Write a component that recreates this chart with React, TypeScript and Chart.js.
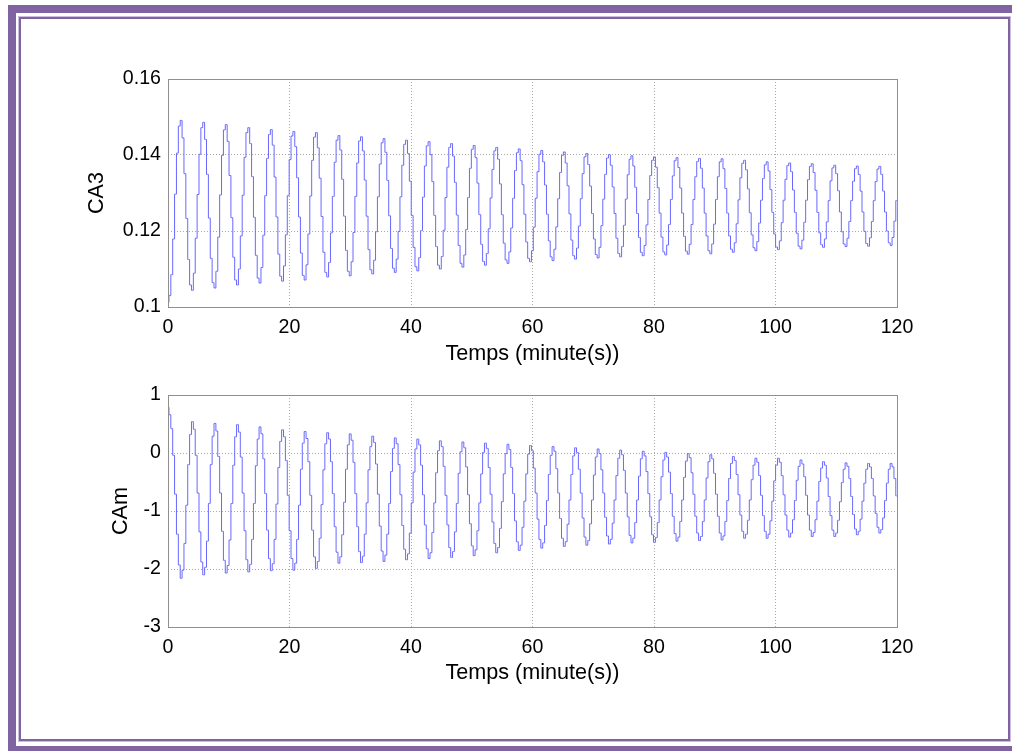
import { useEffect, useRef } from "react";
import { Chart, registerables } from "chart.js";

Chart.register(...registerables);

// Sampling interval of both series, in minutes
const SAMPLE_MIN = 0.30917;

const X_TICKS = [0, 20, 40, 60, 80, 100, 120];
const CA3_TICKS = [0.1, 0.12, 0.14, 0.16];
const CAM_TICKS = [-3, -2, -1, 0, 1];

const X_LABEL = "Temps (minute(s))";
const CA3_LABEL = "CA3";
const CAM_LABEL = "CAm";

// CA3 samples
const CA3 = [
  0.1012, 0.1030, 0.1085, 0.1179, 0.1297, 0.1405, 0.1476, 0.1491, 0.1445, 0.1351, 0.1233, 0.1125,
  0.1058, 0.1044, 0.1089, 0.1181, 0.1296, 0.1402, 0.1472, 0.1486, 0.1441, 0.1349, 0.1234, 0.1128,
  0.1064, 0.1050, 0.1094, 0.1184, 0.1295, 0.1399, 0.1466, 0.1480, 0.1436, 0.1346, 0.1235, 0.1131,
  0.1071, 0.1058, 0.1100, 0.1187, 0.1294, 0.1394, 0.1459, 0.1472, 0.1430, 0.1343, 0.1236, 0.1136,
  0.1076, 0.1063, 0.1104, 0.1189, 0.1293, 0.1391, 0.1454, 0.1467, 0.1426, 0.1342, 0.1237, 0.1139,
  0.1081, 0.1068, 0.1108, 0.1190, 0.1293, 0.1388, 0.1450, 0.1462, 0.1422, 0.1340, 0.1237, 0.1142,
  0.1083, 0.1071, 0.1111, 0.1192, 0.1292, 0.1386, 0.1447, 0.1459, 0.1419, 0.1339, 0.1238, 0.1144,
  0.1091, 0.1079, 0.1117, 0.1195, 0.1291, 0.1381, 0.1439, 0.1451, 0.1413, 0.1336, 0.1239, 0.1149,
  0.1094, 0.1082, 0.1119, 0.1196, 0.1291, 0.1379, 0.1437, 0.1448, 0.1411, 0.1334, 0.1239, 0.1151,
  0.1098, 0.1087, 0.1123, 0.1198, 0.1290, 0.1376, 0.1432, 0.1443, 0.1407, 0.1333, 0.1240, 0.1154,
  0.1102, 0.1091, 0.1126, 0.1199, 0.1290, 0.1373, 0.1428, 0.1439, 0.1404, 0.1331, 0.1241, 0.1157,
  0.1106, 0.1095, 0.1130, 0.1201, 0.1289, 0.1371, 0.1424, 0.1435, 0.1401, 0.1330, 0.1241, 0.1159,
  0.1110, 0.1100, 0.1133, 0.1202, 0.1288, 0.1368, 0.1420, 0.1430, 0.1397, 0.1328, 0.1242, 0.1162,
  0.1115, 0.1105, 0.1137, 0.1204, 0.1288, 0.1365, 0.1415, 0.1425, 0.1393, 0.1326, 0.1243, 0.1165,
  0.1120, 0.1110, 0.1141, 0.1206, 0.1287, 0.1362, 0.1411, 0.1420, 0.1389, 0.1324, 0.1243, 0.1168,
  0.1124, 0.1115, 0.1145, 0.1208, 0.1286, 0.1359, 0.1406, 0.1416, 0.1385, 0.1322, 0.1244, 0.1171,
  0.1128, 0.1119, 0.1148, 0.1210, 0.1286, 0.1356, 0.1402, 0.1412, 0.1382, 0.1321, 0.1244, 0.1174,
  0.1132, 0.1122, 0.1152, 0.1211, 0.1285, 0.1354, 0.1399, 0.1408, 0.1379, 0.1319, 0.1245, 0.1176,
  0.1135, 0.1126, 0.1155, 0.1213, 0.1285, 0.1351, 0.1395, 0.1404, 0.1375, 0.1318, 0.1246, 0.1179,
  0.1138, 0.1129, 0.1157, 0.1214, 0.1284, 0.1349, 0.1392, 0.1401, 0.1373, 0.1316, 0.1246, 0.1181,
  0.1141, 0.1132, 0.1159, 0.1215, 0.1284, 0.1348, 0.1389, 0.1398, 0.1371, 0.1315, 0.1246, 0.1183,
  0.1144, 0.1135, 0.1162, 0.1216, 0.1283, 0.1346, 0.1386, 0.1395, 0.1368, 0.1314, 0.1247, 0.1184,
  0.1145, 0.1137, 0.1163, 0.1217, 0.1283, 0.1345, 0.1385, 0.1393, 0.1367, 0.1313, 0.1247, 0.1186,
  0.1147, 0.1139, 0.1165, 0.1217, 0.1283, 0.1343, 0.1383, 0.1391, 0.1365, 0.1313, 0.1247, 0.1187,
  0.1148, 0.1140, 0.1166, 0.1218, 0.1283, 0.1343, 0.1382, 0.1390, 0.1364, 0.1312, 0.1247, 0.1187,
  0.1152, 0.1144, 0.1169, 0.1219, 0.1282, 0.1340, 0.1378, 0.1386, 0.1361, 0.1311, 0.1248, 0.1190,
  0.1156, 0.1148, 0.1172, 0.1221, 0.1281, 0.1338, 0.1374, 0.1382, 0.1358, 0.1309, 0.1249, 0.1192,
  0.1158, 0.1151, 0.1174, 0.1222, 0.1281, 0.1336, 0.1372, 0.1379, 0.1356, 0.1308, 0.1249, 0.1194,
  0.1160, 0.1153, 0.1176, 0.1223, 0.1281, 0.1335, 0.1370, 0.1377, 0.1354, 0.1307, 0.1249, 0.1195,
  0.1164, 0.1157, 0.1179, 0.1224, 0.1280, 0.1332, 0.1366, 0.1373, 0.1351, 0.1306, 0.1250, 0.1198,
  0.1166, 0.1159, 0.1181, 0.1225, 0.1280, 0.1331, 0.1364, 0.1371, 0.1349, 0.1305, 0.1250, 0.1199,
  0.1167, 0.1160, 0.1182, 0.1225, 0.1280, 0.1330, 0.1363, 0.1370, 0.1349, 0.1305, 0.1250, 0.1200,
  0.1169, 0.1162, 0.1183, 0.1226, 0.1280,
];

// CAm samples
const CAM = [
  0.79, 0.66, 0.42, -0.04, -0.71, -1.40, -1.93, -2.16, -2.02, -1.56, -0.90, -0.20,
  0.32, 0.54, 0.41, -0.04, -0.69, -1.36, -1.88, -2.10, -1.97, -1.52, -0.87, -0.20,
  0.29, 0.51, 0.38, -0.06, -0.69, -1.35, -1.85, -2.07, -1.94, -1.50, -0.87, -0.21,
  0.28, 0.49, 0.36, -0.07, -0.69, -1.34, -1.84, -2.05, -1.92, -1.49, -0.87, -0.22,
  0.24, 0.45, 0.33, -0.10, -0.70, -1.33, -1.82, -2.03, -1.91, -1.49, -0.88, -0.25,
  0.20, 0.40, 0.28, -0.13, -0.73, -1.34, -1.82, -2.02, -1.90, -1.49, -0.90, -0.28,
  0.17, 0.37, 0.25, -0.15, -0.73, -1.33, -1.79, -1.99, -1.87, -1.47, -0.89, -0.29,
  0.16, 0.35, 0.24, -0.15, -0.70, -1.27, -1.71, -1.90, -1.79, -1.41, -0.85, -0.28,
  0.14, 0.33, 0.22, -0.16, -0.70, -1.27, -1.70, -1.89, -1.78, -1.40, -0.86, -0.29,
  0.11, 0.29, 0.18, -0.19, -0.71, -1.26, -1.69, -1.87, -1.76, -1.40, -0.87, -0.32,
  0.08, 0.26, 0.16, -0.20, -0.72, -1.25, -1.66, -1.84, -1.74, -1.38, -0.86, -0.33,
  0.07, 0.24, 0.14, -0.21, -0.72, -1.24, -1.65, -1.82, -1.72, -1.37, -0.86, -0.34,
  0.04, 0.21, 0.11, -0.23, -0.73, -1.24, -1.63, -1.80, -1.70, -1.36, -0.87, -0.35,
  0.02, 0.19, 0.09, -0.24, -0.72, -1.22, -1.60, -1.77, -1.67, -1.34, -0.86, -0.36,
  0.01, 0.17, 0.08, -0.25, -0.71, -1.19, -1.56, -1.72, -1.63, -1.30, -0.84, -0.36,
  -0.01, 0.15, 0.06, -0.25, -0.70, -1.17, -1.53, -1.68, -1.59, -1.28, -0.83, -0.36,
  -0.02, 0.13, 0.04, -0.26, -0.69, -1.14, -1.49, -1.64, -1.55, -1.25, -0.82, -0.37,
  -0.04, 0.11, 0.03, -0.27, -0.69, -1.13, -1.47, -1.61, -1.53, -1.23, -0.81, -0.37,
  -0.05, 0.09, 0.01, -0.28, -0.69, -1.12, -1.45, -1.59, -1.51, -1.22, -0.81, -0.38,
  -0.07, 0.07, -0.01, -0.29, -0.69, -1.11, -1.43, -1.57, -1.49, -1.21, -0.81, -0.39,
  -0.09, 0.05, -0.03, -0.30, -0.69, -1.10, -1.42, -1.55, -1.47, -1.20, -0.81, -0.40,
  -0.10, 0.03, -0.05, -0.32, -0.70, -1.10, -1.41, -1.54, -1.46, -1.20, -0.81, -0.41,
  -0.12, 0.01, -0.07, -0.33, -0.70, -1.09, -1.39, -1.52, -1.45, -1.18, -0.81, -0.42,
  -0.14, -0.01, -0.08, -0.34, -0.71, -1.09, -1.38, -1.51, -1.44, -1.18, -0.81, -0.43,
  -0.15, -0.03, -0.10, -0.35, -0.71, -1.09, -1.38, -1.50, -1.43, -1.18, -0.82, -0.44,
  -0.18, -0.06, -0.13, -0.37, -0.72, -1.07, -1.35, -1.47, -1.40, -1.16, -0.81, -0.46,
  -0.21, -0.09, -0.16, -0.39, -0.73, -1.08, -1.35, -1.47, -1.40, -1.17, -0.83, -0.48,
  -0.21, -0.09, -0.16, -0.39, -0.72, -1.07, -1.33, -1.45, -1.38, -1.15, -0.82, -0.47,
  -0.23, -0.12, -0.19, -0.41, -0.73, -1.07, -1.33, -1.44, -1.37, -1.15, -0.83, -0.49,
  -0.26, -0.15, -0.21, -0.43, -0.75, -1.08, -1.33, -1.44, -1.38, -1.16, -0.84, -0.51,
  -0.28, -0.17, -0.23, -0.44, -0.75, -1.06, -1.31, -1.41, -1.35, -1.14, -0.83, -0.52,
  -0.28, -0.18, -0.24, -0.44, -0.74, -1.04, -1.28, -1.38, -1.32, -1.12, -0.82, -0.52,
  -0.28, -0.18, -0.24, -0.44, -0.74,
];

const PAGE_W = 1012;
const PAGE_H = 751;
const PLOT_LEFT = 168;
const PLOT_RIGHT = 897;
const FONT = "'Liberation Sans', Arial, sans-serif";
const TICK_SIZE = 19.6;
const LABEL_SIZE = 21.6;
const LINE_COLOR = "rgb(104, 104, 255)";
const GRID_COLOR = "#a8a8a8";
const BOX_COLOR = "#8f8f8f";
const FRAME_PURPLE = "#8064a2";

// Draws the closed axes box and the axis labels around the plot area
const axesDecor = {
  id: "axesDecor",
  afterDraw(chart: any, _args: any, opts: any) {
    const { ctx, chartArea: a } = chart;
    ctx.save();
    ctx.strokeStyle = BOX_COLOR;
    ctx.lineWidth = 1;
    ctx.strokeRect(
      Math.round(a.left) + 0.5,
      Math.round(a.top) + 0.5,
      Math.round(a.right - a.left),
      Math.round(a.bottom - a.top)
    );
    ctx.fillStyle = "#000";
    ctx.font = `${LABEL_SIZE}px ${FONT}`;
    ctx.textAlign = "center";
    ctx.textBaseline = "middle";
    ctx.fillText(opts.xLabel, (a.left + a.right) / 2, a.bottom + opts.xLabelGap);
    ctx.translate(a.left - opts.yLabelGap, (a.top + a.bottom) / 2);
    ctx.rotate(-Math.PI / 2);
    ctx.fillText(opts.yLabel, 0, 0);
    ctx.restore();
  },
};

type PanelProps = {
  top: number;
  height: number;
  plotTop: number;
  plotBottom: number;
  values: number[];
  yTicks: number[];
  yLabel: string;
  yLabelGap: number;
  xLabelGap: number;
};

function Panel({ top, height, plotTop, plotBottom, values, yTicks, yLabel, yLabelGap, xLabelGap }: PanelProps) {
  const ref = useRef<HTMLCanvasElement | null>(null);

  useEffect(() => {
    if (!ref.current) return;
    const points = values.map((v, i) => ({ x: i * SAMPLE_MIN, y: v }));
    const tickFont = { family: FONT, size: TICK_SIZE };
    const chart = new Chart(ref.current, {
      type: "line",
      data: {
        datasets: [
          {
            data: points,
            borderColor: LINE_COLOR,
            borderWidth: 1,
            pointRadius: 0,
            stepped: "middle",
            fill: false,
            tension: 0,
          },
        ],
      },
      options: {
        responsive: false,
        animation: false,
        devicePixelRatio: 1,
        events: [],
        layout: {
          padding: { left: 0, right: PAGE_W - PLOT_RIGHT, top: plotTop - top, bottom: 0 },
        },
        plugins: {
          legend: { display: false },
          tooltip: { enabled: false },
          axesDecor: { xLabel: X_LABEL, yLabel, yLabelGap, xLabelGap },
        } as any,
        scales: {
          x: {
            type: "linear",
            min: X_TICKS[0],
            max: X_TICKS[X_TICKS.length - 1],
            afterFit: (s: any) => {
              s.height = top + height - plotBottom;
            },
            afterBuildTicks: (s: any) => {
              s.ticks = X_TICKS.map((value) => ({ value }));
            },
            grid: { color: GRID_COLOR, lineWidth: 1, drawTicks: false, tickLength: 0 },
            border: { display: false, dash: [1, 2] },
            ticks: {
              color: "#000",
              font: tickFont,
              padding: 9,
              maxRotation: 0,
              autoSkip: false,
              callback: (v: any) => String(v),
            },
          },
          y: {
            type: "linear",
            min: yTicks[0],
            max: yTicks[yTicks.length - 1],
            afterFit: (s: any) => {
              s.width = PLOT_LEFT;
            },
            afterBuildTicks: (s: any) => {
              s.ticks = yTicks.map((value) => ({ value }));
            },
            grid: { color: GRID_COLOR, lineWidth: 1, drawTicks: false, tickLength: 0 },
            border: { display: false, dash: [1, 2] },
            ticks: {
              color: "#000",
              font: tickFont,
              padding: 7,
              autoSkip: false,
              callback: (v: any) => String(v),
            },
          },
        },
      },
      plugins: [axesDecor],
    } as any);
    return () => chart.destroy();
  }, []);

  return (
    <canvas
      ref={ref}
      width={PAGE_W}
      height={height}
      style={{ position: "absolute", left: 0, top, width: PAGE_W, height }}
    />
  );
}

export default function App() {
  return (
    <div
      style={{
        position: "fixed",
        left: 0,
        top: 0,
        width: PAGE_W,
        height: PAGE_H,
        background: "#fff",
        overflow: "hidden",
      }}
    >
      <div
        style={{
          position: "absolute",
          left: 8,
          top: 5,
          width: 1020,
          height: 749,
          border: `8px solid ${FRAME_PURPLE}`,
          boxSizing: "border-box",
        }}
      />
      <div
        style={{
          position: "absolute",
          left: 19,
          top: 17,
          width: 991,
          height: 724,
          border: `2px solid ${FRAME_PURPLE}`,
          boxShadow: "0 0 0 1px #cdbfe0",
          boxSizing: "border-box",
        }}
      />
      <Panel
        top={0}
        height={370}
        plotTop={79}
        plotBottom={307}
        values={CA3}
        yTicks={CA3_TICKS}
        yLabel={CA3_LABEL}
        yLabelGap={71}
        xLabelGap={47}
      />
      <Panel
        top={370}
        height={381}
        plotTop={395}
        plotBottom={627}
        values={CAM}
        yTicks={CAM_TICKS}
        yLabel={CAM_LABEL}
        yLabelGap={47}
        xLabelGap={46}
      />
    </div>
  );
}
